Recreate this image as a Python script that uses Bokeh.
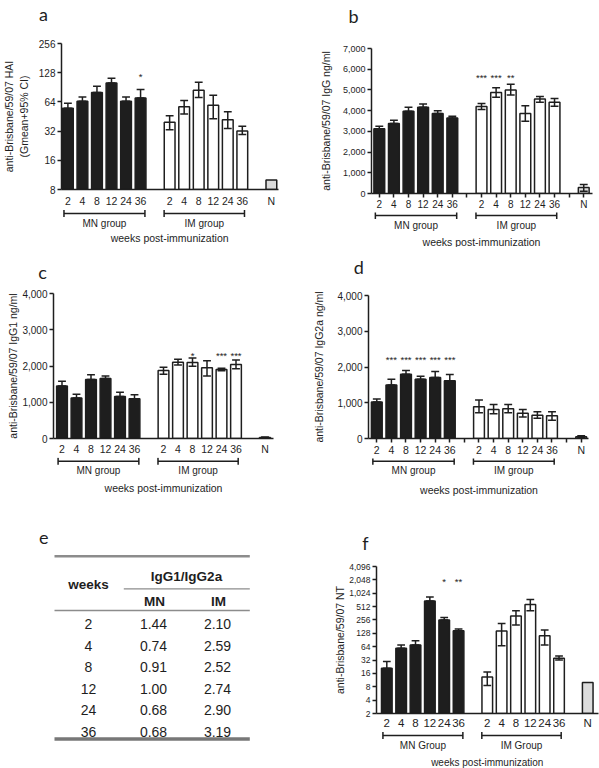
from bokeh.plotting import figure
from bokeh.models import Range1d, FixedTicker, NumeralTickFormatter, ColumnDataSource
from bokeh.layouts import row, column
from bokeh.embed import file_html
from bokeh.resources import INLINE
from bokeh.core.properties import value

FONT = "Liberation Sans"
LETTER_FONT = "Lato"
INK = "#1e1e1e"
N_FILL = "#dcdcdc"
RULE = "#8c8c8c"

# ------------------------------------------------------------------ data
weeks = ["2", "4", "8", "12", "24", "36"]
groups_lower = ["MN group", "IM group"]
groups_upper = ["MN Group", "IM Group"]
x_title = "weeks post-immunization"

# (a) HAI titre, Gmean + 95% CI
hai_mn = [55, 65, 80, 100, 65, 70]
hai_mn_hi = [62, 72, 93, 112, 72, 86]
hai_im = [39.5, 57, 84.5, 59, 42, 32]
hai_im_lo = [33, 48, 71, 43, 34, 29.5]
hai_im_hi = [46, 66, 102, 75, 50.6, 36]
hai_n = 10
hai_ticks = [8, 16, 32, 64, 128, 256]
hai_mn_stars = ["", "", "", "", "", "*"]
hai_im_stars = ["", "", "", "", "", ""]

# (b) IgG ng/ml
igg_mn = [3130, 3380, 3970, 4160, 3860, 3650]
igg_mn_hi = [3250, 3540, 4160, 4320, 4000, 3730]
igg_im = [4200, 4870, 5000, 3860, 4560, 4400]
igg_im_lo = [4050, 4650, 4760, 3490, 4410, 4210]
igg_im_hi = [4350, 5110, 5270, 4240, 4680, 4590]
igg_n, igg_n_lo, igg_n_hi = 290, 110, 440
igg_ticks = [0, 1000, 2000, 3000, 4000, 5000, 6000, 7000]
igg_mn_stars = ["", "", "", "", "", ""]
igg_im_stars = ["***", "***", "**", "", "", ""]

# (c) IgG1 ng/ml
igg1_mn = [1446, 1115, 1626, 1653, 1161, 1097]
igg1_mn_hi = [1580, 1223, 1760, 1726, 1277, 1204]
igg1_im = [1876, 2102, 2100, 1949, 1903, 2038]
igg1_im_lo = [1769, 2030, 1995, 1726, 1868, 1922]
igg1_im_hi = [1968, 2183, 2218, 2145, 1940, 2164]
igg1_n, igg1_n_lo, igg1_n_hi = 25, 10, 40
igg1_ticks = [0, 1000, 2000, 3000, 4000]
igg1_mn_stars = ["", "", "", "", "", ""]
igg1_im_stars = ["", "", "*", "", "***", "***"]

# (d) IgG2a ng/ml
igg2a_mn = [1022, 1495, 1795, 1660, 1705, 1614]
igg2a_mn_hi = [1104, 1660, 1905, 1740, 1877, 1787]
igg2a_im = [885, 812, 831, 703, 648, 639]
igg2a_im_lo = [721, 694, 721, 603, 566, 511]
igg2a_im_hi = [1077, 948, 948, 812, 749, 749]
igg2a_n, igg2a_n_lo, igg2a_n_hi = 50, 25, 75
igg2a_ticks = [0, 1000, 2000, 3000, 4000]
igg2a_mn_stars = ["", "***", "***", "***", "***", "***"]
igg2a_im_stars = ["", "", "", "", "", ""]

# (e) IgG1/IgG2a ratio table
ratio_mn = [1.44, 0.74, 0.91, 1.00, 0.68, 0.68]
ratio_im = [2.10, 2.59, 2.52, 2.74, 2.90, 3.19]

# (f) NT titre
nt_mn = [21, 59, 70, 686, 254, 147]
nt_mn_hi = [29.6, 70, 87, 843, 292, 160]
nt_im = [13.3, 144, 313, 569, 113, 35.3]
nt_im_lo = [8.5, 67, 197, 410, 70, 32]
nt_im_hi = [17.2, 214, 410, 739, 152, 39.7]
nt_n = 10
nt_ticks = [2, 4, 8, 16, 32, 64, 128, 256, 512, 1024, 2048, 4096]
nt_mn_stars = ["", "", "", "", "*", "**"]
nt_im_stars = ["", "", "", "", "", ""]

panel_letters = ["a", "b", "c", "d", "e", "f"]

# ------------------------------------------------------------------ layout constants
MN_POS = list(range(6))
IM_POS = [p + 7 for p in range(6)]
N_POS = 14
ALL_POS = list(range(15))
BAR_W = 0.74
CAP = 0.27
PAGE_W = 599


def blank_fig(w, h, xr, yr, **kw):
    p = figure(width=w, height=h, x_range=xr, y_range=yr, output_backend="svg",
               toolbar_location=None, x_axis_location=None, y_axis_location=None,
               outline_line_color=None, border_fill_color="white",
               background_fill_color="white", **kw)
    p.grid.visible = False
    return p


def letter_strip(h, letters, xs, ys):
    p = blank_fig(PAGE_W, h, Range1d(0, PAGE_W), Range1d(0, h), min_border=0)
    p.text(x=xs, y=ys, text=letters, text_font=value(LETTER_FONT), text_font_size="18px",
           text_align="center", text_baseline="alphabetic", text_color=INK)
    return p


def add_err(p, xs, lo, hi):
    src = ColumnDataSource(dict(x=xs, lo=lo, hi=hi,
                                xl=[x - CAP for x in xs], xr=[x + CAP for x in xs]))
    kw = dict(source=src, line_color=INK, line_width=1.5)
    p.segment(x0="x", y0="lo", x1="x", y1="hi", **kw)
    p.segment(x0="xl", y0="hi", x1="xr", y1="hi", **kw)
    p.segment(x0="xl", y0="lo", x1="xr", y1="lo", **kw)


def style_axis(ax, tick_size):
    ax.major_label_text_font = FONT
    ax.major_label_text_font_size = tick_size
    ax.major_label_text_color = INK
    ax.axis_line_color = INK
    ax.axis_line_width = 1.5
    ax.major_tick_line_color = INK
    ax.major_tick_line_width = 1.5
    ax.major_tick_in = 0
    ax.minor_tick_line_color = None
    ax.axis_label_text_font = FONT
    ax.axis_label_text_font_style = "normal"
    ax.axis_label_text_color = INK


def build_panel(sp):
    w = sp["w"]
    mh, fh = sp["heights"]
    bl, br, bt, bb = sp["borders"]

    xr = Range1d(*sp["xr"])
    main = figure(width=w, height=mh, x_range=xr, y_range=Range1d(*sp["yr"]),
                  y_axis_type="log" if sp["log"] else "linear",
                  output_backend="svg", toolbar_location=None,
                  min_border_left=bl, min_border_right=br,
                  min_border_top=bt, min_border_bottom=bb,
                  outline_line_color=None)
    main.grid.visible = False
    base = sp["yr"][0]
    bar_kw = dict(width=BAR_W, bottom=base, line_color=INK, line_width=1.5)
    main.vbar(x=MN_POS, top=sp["mn"], fill_color=INK, **bar_kw)
    main.vbar(x=IM_POS, top=sp["im"], fill_color="white", **bar_kw)
    main.vbar(x=[N_POS], top=[sp["n"]], fill_color=N_FILL, **bar_kw)
    add_err(main, MN_POS, sp["mn"], sp["mn_hi"])
    add_err(main, IM_POS, sp["im_lo"], sp["im_hi"])
    if sp.get("n_err"):
        add_err(main, [N_POS], [sp["n_err"][0]], [sp["n_err"][1]])

    sx, st = [], []
    for pos, s in list(zip(MN_POS, sp["mn_stars"])) + list(zip(IM_POS, sp["im_stars"])):
        if s:
            sx.append(pos)
            st.append(s)
    if sx:
        main.text(x=sx, y=[sp["star_level"]] * len(sx), text=st,
                  text_font=value(FONT), text_font_size="9.5px",
                  text_align="center", text_baseline="middle", text_color=INK)

    ya = main.yaxis[0]
    style_axis(ya, sp["ytick_size"])
    ya.ticker = FixedTicker(ticks=sp["yticks"])
    ya.formatter = NumeralTickFormatter(format="0,0")
    ya.major_tick_out = 4
    ya.major_label_standoff = 2
    ya.axis_label = sp["ylabel"]
    ya.axis_label_text_font_size = "10.5px"
    ya.axis_label_standoff = sp["ylabel_standoff"]

    xa = main.xaxis[0]
    style_axis(xa, sp["xtick_size"])
    overrides = {}
    for pos in ALL_POS:
        overrides[pos] = ""
    for pos, wk in zip(MN_POS, weeks):
        overrides[pos] = wk
    for pos, wk in zip(IM_POS, weeks):
        overrides[pos] = wk
    overrides[N_POS] = "N"
    if sp["xtick_all"]:
        xa.ticker = FixedTicker(ticks=ALL_POS)
        xa.major_tick_out = 4
    else:
        xa.ticker = FixedTicker(ticks=MN_POS + IM_POS + [N_POS])
        xa.major_tick_out = 0
        xa.major_tick_line_color = None
    xa.major_label_overrides = overrides
    xa.major_label_standoff = sp["xstand"]

    foot = blank_fig(w, fh, xr, Range1d(0, fh), min_border_left=bl, min_border_right=br,
                     min_border_top=0, min_border_bottom=0)
    by, gy, ty = sp["foot_y"]
    spans = [(MN_POS[0] - 0.27, MN_POS[-1] + 0.3), (IM_POS[0] - 0.38, IM_POS[-1] + 0.15)]
    foot.segment(x0=[s[0] for s in spans], y0=[by, by], x1=[s[1] for s in spans], y1=[by, by],
                 line_color=INK, line_width=1.5)
    ends = [e for s in spans for e in s]
    foot.segment(x0=ends, y0=[by - 3.5] * 4, x1=ends, y1=[by + 3.5] * 4,
                 line_color=INK, line_width=1.5)
    foot.text(x=[(s[0] + s[1]) / 2 for s in spans], y=[gy, gy], text=sp["groups"],
              text_font=value(FONT), text_font_size="10px", text_align="center",
              text_baseline="middle", text_color=INK)
    foot.text(x=[(ALL_POS[0] + ALL_POS[-1]) / 2], y=[ty], text=[x_title],
              text_font=value(FONT), text_font_size=sp["title_size"], text_align="center",
              text_baseline="middle", text_color=INK)
    return column(main, foot)


spec_a = dict(w=300, heights=(184, 38), borders=(57, 22, 18, 17),
              xr=(-0.44, 14.49), yr=(8, 256), log=True, yticks=hai_ticks,
              ylabel="anti-Brisbane/59/07 HAI\n(Gmean+95% CI)", ylabel_standoff=6,
              ytick_size="10px", xtick_size="10.5px", xtick_all=False, xstand=5,
              mn=hai_mn, mn_hi=hai_mn_hi, im=hai_im, im_lo=hai_im_lo, im_hi=hai_im_hi, n=hai_n,
              mn_stars=hai_mn_stars, im_stars=hai_im_stars, star_level=118,
              foot_y=(34, 24, 10), groups=groups_lower, title_size="10.5px")

spec_b = dict(w=299, heights=(187, 35), borders=(71, 7, 23, 17),
              xr=(-0.534, 14.60), yr=(0, 7000), log=False, yticks=igg_ticks,
              ylabel="anti-Brisbane/59/07 IgG ng/ml", ylabel_standoff=8,
              ytick_size="9px", xtick_size="10px", xtick_all=True, xstand=1,
              mn=igg_mn, mn_hi=igg_mn_hi, im=igg_im, im_lo=igg_im_lo, im_hi=igg_im_hi, n=igg_n,
              n_err=(igg_n_lo, igg_n_hi),
              mn_stars=igg_mn_stars, im_stars=igg_im_stars, star_level=5600,
              foot_y=(32, 22, 6), groups=groups_lower, title_size="10.5px")

spec_c = dict(w=300, heights=(173, 39), borders=(53, 27, 9, 16),
              xr=(-0.586, 14.586), yr=(0, 4000), log=False, yticks=igg1_ticks,
              ylabel="anti-Brisbane/59/07 IgG1 ng/ml", ylabel_standoff=0,
              ytick_size="10px", xtick_size="10.5px", xtick_all=False, xstand=4,
              mn=igg1_mn, mn_hi=igg1_mn_hi, im=igg1_im, im_lo=igg1_im_lo, im_hi=igg1_im_hi, n=igg1_n,
              n_err=(igg1_n_lo, igg1_n_hi),
              mn_stars=igg1_mn_stars, im_stars=igg1_im_stars, star_level=2280,
              foot_y=(35.3, 26, 8.3), groups=groups_lower, title_size="10.5px")

spec_d = dict(w=299, heights=(174, 38), borders=(68, 11, 11, 17),
              xr=(-0.568, 14.5), yr=(0, 4000), log=False, yticks=igg2a_ticks,
              ylabel="anti-Brisbane/59/07 IgG2a ng/ml", ylabel_standoff=9,
              ytick_size="10px", xtick_size="10.5px", xtick_all=True, xstand=1,
              mn=igg2a_mn, mn_hi=igg2a_mn_hi, im=igg2a_im, im_lo=igg2a_im_lo, im_hi=igg2a_im_hi,
              n=igg2a_n, n_err=(igg2a_n_lo, igg2a_n_hi),
              mn_stars=igg2a_mn_stars, im_stars=igg2a_im_stars, star_level=2200,
              foot_y=(35.3, 26, 7), groups=groups_lower, title_size="10.5px")

spec_f = dict(w=299, heights=(177, 37), borders=(76, 1, 12, 17),
              xr=(-0.718, 14.75), yr=(2, 4096), log=True, yticks=nt_ticks,
              ylabel="anti-Brisbane/59/07 NT", ylabel_standoff=0,
              ytick_size="8.5px", xtick_size="11.5px", xtick_all=False, xstand=3,
              mn=nt_mn, mn_hi=nt_mn_hi, im=nt_im, im_lo=nt_im_lo, im_hi=nt_im_hi, n=nt_n,
              mn_stars=nt_mn_stars, im_stars=nt_im_stars, star_level=1900,
              foot_y=(33, 23, 6.3), groups=groups_upper, title_size="10px")

# ------------------------------------------------------------------ table (e)
pe = blank_fig(300, 214, Range1d(0, 300), Range1d(768, 554), min_border=0)
TL, TR, SUBL = 54, 249.3, 123.3
pe.segment(x0=[TL], y0=[555.8], x1=[TR], y1=[555.8], line_color=RULE, line_width=2.5)
pe.segment(x0=[SUBL], y0=[588.3], x1=[TR], y1=[588.3], line_color=RULE, line_width=1.2)
pe.segment(x0=[TL], y0=[610], x1=[TR], y1=[610], line_color=RULE, line_width=1.6)
pe.segment(x0=[TL], y0=[738.5], x1=[TR], y1=[738.5], line_color="#777777", line_width=3.5)
hdr_kw = dict(text_font=value(FONT), text_font_size="13.5px", text_font_style="bold",
              text_align="center", text_baseline="middle", text_color=INK)
pe.text(x=[88], y=[583.5], text=["weeks"], **hdr_kw)
pe.text(x=[186], y=[575.5], text=["IgG1/IgG2a"], **hdr_kw)
pe.text(x=[154, 218], y=[600.5, 600.5], text=["MN", "IM"], **hdr_kw)
row_y = [623.5 + 21.5 * i for i in range(len(weeks))]
cell_kw = dict(text_font=value(FONT), text_font_size="14px", text_align="center",
               text_baseline="middle", text_color=INK)
pe.text(x=[88] * len(weeks), y=row_y, text=weeks, **cell_kw)
pe.text(x=[153] * len(weeks), y=row_y, text=["%.2f" % v for v in ratio_mn], **cell_kw)
pe.text(x=[217] * len(weeks), y=row_y, text=["%.2f" % v for v in ratio_im], **cell_kw)

strip_ab = letter_strip(25, panel_letters[0:2], [43, 353], [12, 10])
strip_cd = letter_strip(37, panel_letters[2:4], [42, 358.3], [13, 17.3])
strip_ef = letter_strip(58, panel_letters[4:6], [43.3, 365], [16.7, 11.3])

layout = column(
    strip_ab,
    row(build_panel(spec_a), build_panel(spec_b)),
    strip_cd,
    row(build_panel(spec_c), build_panel(spec_d)),
    strip_ef,
    row(pe, build_panel(spec_f)),
)

open("out.html", "w").write(file_html(layout, INLINE))
